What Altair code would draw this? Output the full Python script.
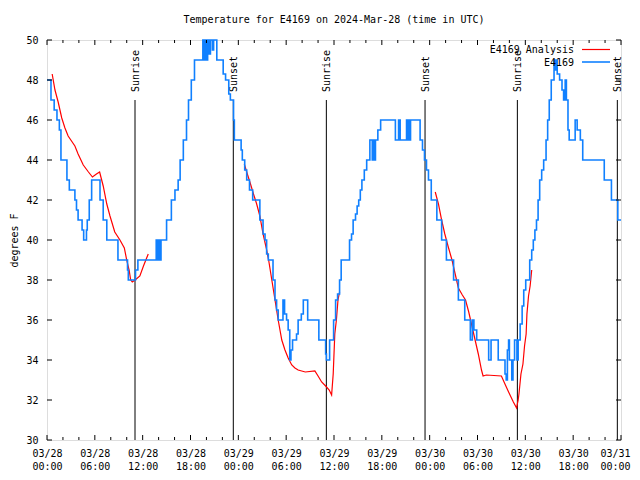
import json
import altair as alt
import pandas as pd

# ---------------- data ----------------
# Observed E4169 temperature (step series): hours since 03/28 00:00 UTC, deg F
obs_hours = [0.0, 0.5, 0.9, 1.25, 1.55, 1.75, 2.5, 2.8, 3.5, 3.7, 3.9, 4.4, 4.6, 4.95, 5.05, 5.3, 5.6,
             6.65, 7.05, 7.5, 8.9, 10.1, 10.2, 11.1, 11.4, 13.7, 13.85, 14.0, 14.15, 14.3, 15.0, 15.6,
             16.05, 16.45, 16.7, 17.1, 17.5, 17.75, 18.1, 18.5, 19.55, 19.65, 19.8, 19.95, 20.15, 20.35,
             20.5, 20.75, 20.9, 21.3, 22.1, 22.4, 22.8, 23.0, 23.4, 23.5, 24.35, 24.5, 24.8, 25.05, 25.4,
             25.8, 26.7, 27.1, 27.35, 27.55, 27.76, 28.35, 28.6, 28.8, 29.0, 29.6, 29.8, 30.05, 30.25,
             30.45, 30.6, 30.8, 31.3, 31.5, 31.9, 32.15, 32.7, 34.1, 34.95, 35.05, 35.45, 35.95, 36.2,
             36.45, 36.7, 36.9, 37.95, 38.2, 38.4, 38.7, 38.9, 39.1, 39.3, 39.5, 39.8, 40.1, 40.5, 40.8,
             40.95, 41.05, 41.2, 41.5, 41.85, 43.7, 44.1, 44.3, 45.1, 45.2, 45.35, 45.45, 45.6, 46.8,
             47.1, 47.35, 47.6, 47.85, 48.2, 48.9, 49.5, 50.1, 51.0, 51.6, 52.4, 53.1, 53.35, 53.55, 53.9,
             55.4, 55.7, 56.6, 57.45, 57.6, 57.75, 57.9, 58.0, 58.3, 58.45, 58.65, 58.95, 59.1, 59.35,
             59.6, 59.8, 60.05, 60.55, 60.8, 61.0, 61.2, 61.4, 61.6, 61.8, 62.05, 62.3, 62.6, 62.8, 63.0,
             63.25, 63.6, 63.75, 63.85, 64.0, 64.3, 64.6, 64.8, 65.0, 65.15, 65.35, 65.5, 66.25, 66.5,
             66.9, 67.2, 69.9, 70.8, 71.6, 72.0]
obs_temps = [48, 47, 46.5, 46, 45.5, 44, 43, 42.5, 42, 41.5, 41, 40.5, 40, 40.5, 41, 42, 43,
             42, 41, 40, 39, 38.5, 38, 38.5, 39, 40, 39, 40, 39, 40, 41, 42,
             42.5, 43, 44, 45, 46, 47, 48, 49, 50, 49, 50, 49, 50, 49.3,
             50, 49.5, 50, 49, 48.3, 48, 47.3, 47, 46, 45, 44.5, 44, 43.5, 43, 42.5,
             42, 41, 40.3, 40, 39.3, 39, 38, 37, 36.5, 36, 37, 36.3, 36, 35.5,
             34, 34.5, 35, 35.3, 36, 36.3, 37, 36, 35, 34.3, 34, 35, 36, 37,
             37.3, 38, 39, 40, 40.3, 41, 41.3, 41.7, 42, 42.5, 43, 43.5, 44, 45, 44,
             45, 44, 45, 45.5, 46, 45, 46, 45, 46, 45, 46, 45, 46, 45,
             44.5, 44, 43.5, 43, 42, 41, 40, 39, 38, 37, 36, 35, 36, 35.5, 35,
             34, 35, 34, 33.3, 33, 34.5, 35, 34, 33, 34, 35, 34, 35, 35.8,
             36.7, 37.5, 38, 39, 39.5, 40, 40.5, 41, 42, 43, 43.5, 44, 45, 46, 47,
             48, 49, 48.5, 49, 48.3, 48, 47.5, 47, 48, 47, 45.5, 45, 46, 45.5,
             45, 44, 43, 42, 41, 41]

# E4169 Analysis (three night-time segments)
ana_hours = [0.65, 1.0, 1.4, 1.85, 2.25, 2.65, 3.5, 3.9, 4.55, 5.2, 5.7, 6.2, 6.6, 7.05, 7.5, 7.9,
             8.5, 9.15, 9.7, 10.0, 10.3, 10.5, 10.7, 11.05, 11.65, 12.1, 12.7,
             24.75, 25.05, 25.45, 25.9, 26.3, 26.7, 27.1, 27.5, 27.8, 28.2, 28.6, 29.0, 29.45, 29.85,
             30.25, 30.7, 31.1, 31.5, 32.4, 33.6, 34.0, 34.45, 34.95, 35.4, 35.7, 35.9, 36.1, 36.3,
             36.5, 36.7,
             48.7, 49.1, 49.5, 49.9, 50.3, 50.8, 51.2, 51.6, 52.1, 52.5, 52.9, 53.3, 53.7, 54.1, 54.5,
             54.7, 55.1, 57.0, 57.5, 57.9, 58.5, 58.9, 59.1, 59.2, 59.45, 59.7, 59.9, 60.1, 60.2, 60.4,
             60.6, 60.8]
ana_temps = [48.3, 47.5, 46.9, 46.1, 45.6, 45.2, 44.7, 44.3, 43.75, 43.4, 43.15, 43.3, 43.4, 42.7,
             41.8, 41.2, 40.4, 40.0, 39.6, 39.0, 38.5, 38.0, 37.9, 38.0, 38.2, 38.7, 39.3,
             43.8, 43.4, 42.9, 42.3, 41.8, 41.2, 40.3, 39.6, 39.0, 38.0, 37.0, 36.0, 35.0, 34.5,
             34.1, 33.75, 33.6, 33.5, 33.4, 33.45, 33.2, 32.9, 32.7, 32.5, 32.25, 33.3, 35.3, 36.0,
             37.0, 37.4,
             42.4, 41.8, 41.0, 40.3, 39.7, 39.0, 38.3, 37.6, 37.25, 37.0, 36.4, 35.7, 35.0, 34.3, 33.5,
             33.2, 33.25, 33.2, 32.75, 32.4, 31.9, 31.6, 32.0, 32.3, 33.3, 33.8, 34.7, 35.3, 36.3, 37.2,
             37.7, 38.5]
ana_segment = [1] * 27 + [2] * 30 + [3] * 32

sun_hours = [11.04, 23.37, 35.04, 47.42, 59.0, 71.54]
sun_labels = ["Sunrise", "Sunset", "Sunrise", "Sunset", "Sunrise", "Sunset"]

x_major = list(range(0, 73, 6))
x_minor = [h for h in range(0, 73, 2) if h % 6]
x_tick_dates = ["03/28", "03/28", "03/28", "03/28", "03/29", "03/29", "03/29",
                "03/29", "03/30", "03/30", "03/30", "03/30", "03/31"]
x_tick_times = ["00:00", "06:00", "12:00", "18:00", "00:00", "06:00", "12:00",
                "18:00", "00:00", "06:00", "12:00", "18:00", "00:00"]
y_ticks = list(range(30, 51, 2))

title_text = "Temperature for E4169 on 2024-Mar-28 (time in UTC)"
y_title = "degrees F"
legend_labels = ["E4169 Analysis", "E4169"]

# ---------------- styling ----------------
W, H = 574, 400
FONT = "DejaVu Sans Mono"
RED = "#ff0000"
BLUE = "#1080ff"

obs_df = pd.DataFrame({"h": obs_hours, "t": obs_temps})
ana_df = pd.DataFrame({"h": ana_hours, "t": ana_temps, "seg": ana_segment})
sun_df = pd.DataFrame({"h": sun_hours, "label": sun_labels})
major_df = pd.DataFrame({"h": x_major})
minor_df = pd.DataFrame({"h": x_minor})
ytick_df = pd.DataFrame({"t": y_ticks})

xscale = alt.Scale(domain=[0, 72], nice=False, zero=False)
yscale = alt.Scale(domain=[30, 50], nice=False, zero=False)

pairs = [[d, t] for d, t in zip(x_tick_dates, x_tick_times)]
label_expr = json.dumps(pairs).replace('"', "'") + "[round(datum.value / 6)]"
last_tick = "datum.value == %d" % x_major[-1]

x_axis = alt.Axis(values=x_major, labelExpr=label_expr, ticks=False, tickSize=0, domain=False,
                  grid=False, labelFont=FONT, labelFontSize=10, labelColor="black",
                  labelPadding=8, labelBaseline="top", labelLineHeight=13, labelFlush=False,
                  labelOverlap=False, labelAngle=0, title=None,
                  labelAlign={"condition": {"test": last_tick, "value": "right"}, "value": "center"},
                  labelOffset={"condition": {"test": last_tick, "value": 9}, "value": 0})
y_axis = alt.Axis(values=y_ticks, ticks=False, tickSize=0, domain=False, grid=False,
                  labelFont=FONT, labelFontSize=10, labelColor="black", labelPadding=9,
                  title=y_title, titleFont=FONT, titleFontSize=10, titleFontWeight="normal",
                  titleColor="black", titleX=-33, titleY=H / 2, titleAngle=270,
                  titleAlign="center", titleBaseline="middle")


def X(field="h"):
    return alt.X(f"{field}:Q", scale=xscale, axis=x_axis)


def Y(field="t"):
    return alt.Y(f"{field}:Q", scale=yscale, axis=y_axis)


sun_rule = alt.Chart(sun_df).mark_rule(color="black", strokeWidth=1).encode(
    x=X(), y=alt.value(60), y2=alt.value(H)
)
sun_text = alt.Chart(sun_df).mark_text(angle=270, align="left", baseline="middle",
                                       font=FONT, fontSize=10, color="black", dy=1).encode(
    x=X(), y=alt.value(52), text="label:N"
)

# analysis line (drawn underneath the observations)
ana = alt.Chart(ana_df).mark_line(color=RED, strokeWidth=1.2).encode(
    x=X(), y=Y(), detail="seg:N",
)

obs = alt.Chart(obs_df).mark_line(color=BLUE, strokeWidth=1.6, interpolate="step-after").encode(
    x=X(), y=Y()
)

# inward ticks on all four sides
tick_layers = [
    alt.Chart(major_df).mark_rule(color="black").encode(x=X(), y=alt.value(H), y2=alt.value(H - 5)),
    alt.Chart(major_df).mark_rule(color="black").encode(x=X(), y=alt.value(0), y2=alt.value(5)),
    alt.Chart(minor_df).mark_rule(color="black").encode(x=X(), y=alt.value(H), y2=alt.value(H - 3)),
    alt.Chart(minor_df).mark_rule(color="black").encode(x=X(), y=alt.value(0), y2=alt.value(3)),
    alt.Chart(ytick_df).mark_rule(color="black").encode(y=Y(), x=alt.value(0), x2=alt.value(5)),
    alt.Chart(ytick_df).mark_rule(color="black").encode(y=Y(), x=alt.value(W), x2=alt.value(W - 5)),
]

# key (top right, gnuplot style: text then line sample)
key_df = pd.DataFrame({"label": legend_labels})
key_layers = [
    alt.Chart(key_df.iloc[[0]]).mark_text(align="right", baseline="middle", font=FONT,
                                          fontSize=10, color="black").encode(
        x=alt.value(527), y=alt.value(10), text="label:N"),
    alt.Chart(key_df.iloc[[1]]).mark_text(align="right", baseline="middle", font=FONT,
                                          fontSize=10, color="black").encode(
        x=alt.value(527), y=alt.value(22.5), text="label:N"),
    alt.Chart(key_df.iloc[[0]]).mark_rule(color=RED, strokeWidth=1.2).encode(
        x=alt.value(535), x2=alt.value(563), y=alt.value(9.5)),
    alt.Chart(key_df.iloc[[1]]).mark_rule(color=BLUE, strokeWidth=1.6).encode(
        x=alt.value(535), x2=alt.value(563), y=alt.value(22)),
]

chart = alt.layer(sun_rule, sun_text, ana, obs, *tick_layers, *key_layers).properties(
    width=W,
    height=H,
    title=alt.Title(title_text, font=FONT, fontSize=10, fontWeight="normal", color="black",
                    anchor="middle", offset=10),
    padding={"left": 39, "top": 32, "right": 10, "bottom": 32},
    autosize=alt.AutoSizeParams(type="none"),
).configure_view(stroke="black", strokeWidth=1).configure(background="white")

chart.save("out.html", embed_options={"renderer": "svg", "actions": False})
